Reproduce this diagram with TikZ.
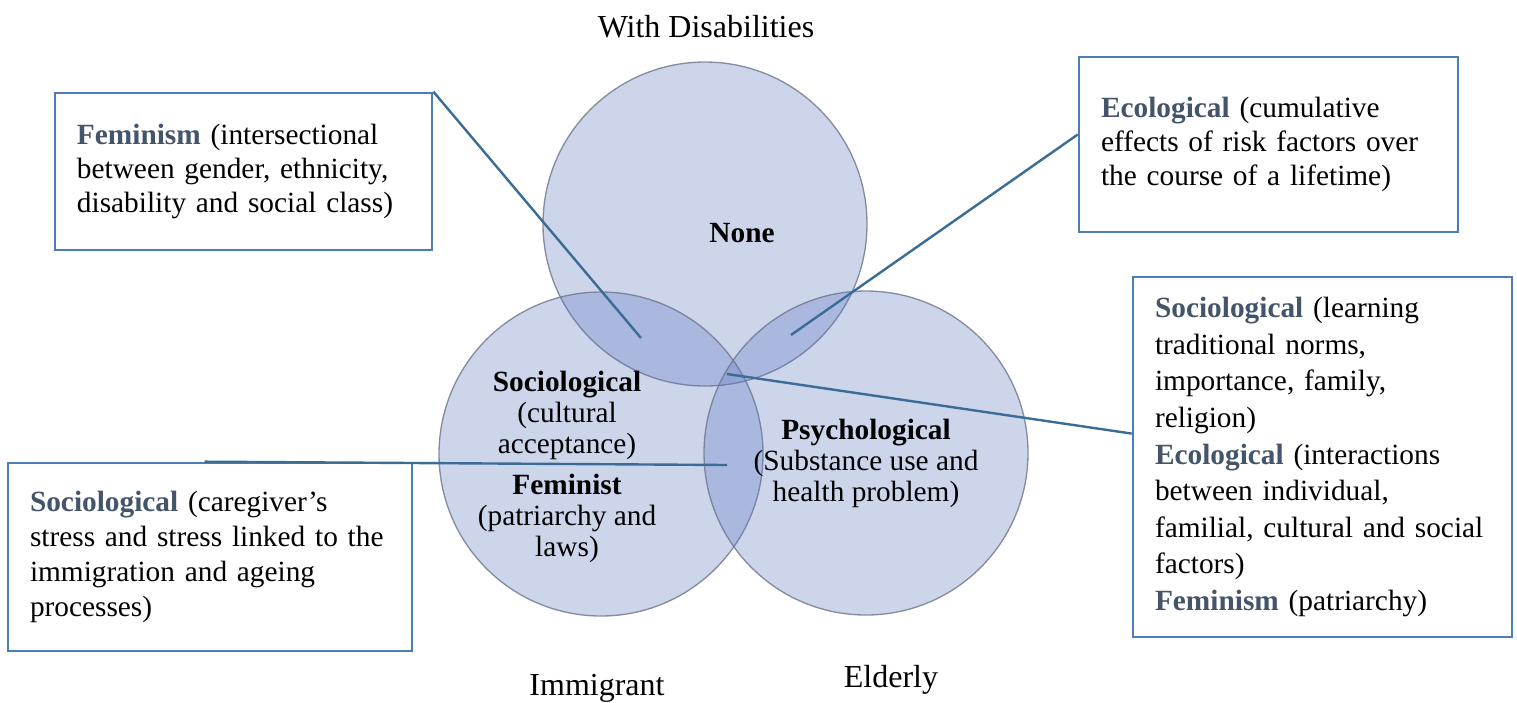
\documentclass[tikz,border=0pt]{standalone}
\usepackage{fontspec}
\setmainfont{Liberation Serif}
\usetikzlibrary{positioning}

\definecolor{boxblue}{RGB}{74,126,180}
\definecolor{linkblue}{RGB}{58,108,150}
\definecolor{keyslate}{RGB}{68,84,106}
\definecolor{vennfill}{RGB}{90,115,190}
\definecolor{venndraw}{RGB}{110,118,140}

\newcommand*{\key}[1]{\textbf{\textcolor{keyslate}{#1}}}

\tikzset{
  venn/.style={circle, minimum size=121.5pt, inner sep=0pt,
    fill=vennfill, fill opacity=0.3, draw=venndraw, draw opacity=0.8, line width=0.5pt},
  vennlabel/.style={align=center, font=\fontsize{11}{11.6}\selectfont},
  setlabel/.style={font=\fontsize{12}{13}\selectfont},
  infobox/.style={draw=boxblue, line width=1pt, fill=white, align=left,
    inner xsep=8.25pt, inner ysep=0pt, font=\fontsize{11}{12.6}\selectfont},
  link/.style={draw=linkblue, line width=0.9pt}
}

\begin{document}
\begin{tikzpicture}[x=0.375pt, y=-0.375pt]
\useasboundingbox (0,0) rectangle (1517,702);

% the three sets
\node[venn] (disab) at (705,224) {};
\node[venn] (immig) at (601,454) {};
\node[venn] (elder) at (866,453) {};

% set names
\node[setlabel] (disabname) at (706,27) {With Disabilities};
\node[setlabel] (immigname) at (597,688) {Immigrant};
\node[setlabel] (eldername) at (891,680) {Elderly};

% texts inside the circles
\node[vennlabel] (none) at (742,233) {\textbf{None}};
\node[vennlabel] (socio) at (567,415) {\textbf{Sociological}\\(cultural\\acceptance)};
\node[vennlabel] (femin) at (567,518) {\textbf{Feminist}\\(patriarchy and\\laws)};
\node[vennlabel] (psych) at (866,463) {\textbf{Psychological}\\(Substance use and\\health problem)};

% free ends of the connectors
\coordinate (lensDI) at (641,338);
\coordinate (lensDE) at (791,335);
\coordinate (lensAll) at (727,374);
\coordinate (lensIE) at (727,465);

% boxes
\node[infobox, minimum width=141.4pt, minimum height=58.9pt, text width=124.9pt]
  (fembox) at (243.5,171.5)
  {\key{Feminism} (intersectional\\between gender, ethnicity,\\disability and social class)};
\node[infobox, minimum width=142.1pt, minimum height=65.6pt, text width=125.6pt]
  (ecobox) at (1268.5,144.5)
  {\key{Ecological} (cumulative\\effects of risk factors over\\the course of a lifetime)};
\node[infobox, minimum width=151.5pt, minimum height=70.5pt, text width=135pt,
  font=\fontsize{11}{13.2}\selectfont]
  (careb) at (210,557)
  {\key{Sociological} (caregiver's\\stress and stress linked to the\\immigration and ageing\\processes)};
\node[infobox, minimum width=142.1pt, minimum height=135pt, text width=125.6pt,
  font=\fontsize{11}{13.7}\selectfont]
  (allbox) at (1322.5,457)
  {\key{Sociological} (learning\\traditional norms,\\importance, family,\\religion)\\
   \key{Ecological} (interactions\\between individual,\\familial, cultural and social\\factors)\\
   \key{Feminism} (patriarchy)};

% connectors
\draw[link] (fembox.north east) -- (lensDI);
\draw[link] (ecobox.177) -- (lensDE);
\draw[link] (allbox.173) -- (lensAll);
\draw[link] ([xshift=-2pt]careb.north) -- (lensIE);

\end{tikzpicture}
\end{document}
